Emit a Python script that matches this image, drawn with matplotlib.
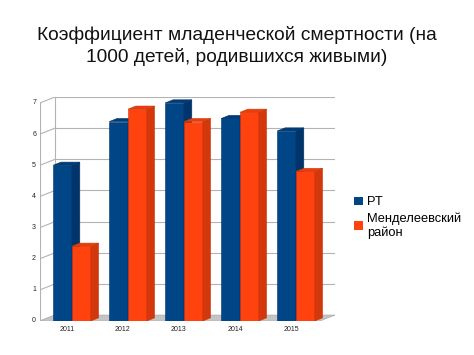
import matplotlib.pyplot as plt
from matplotlib.patches import Polygon, Rectangle

years = ['2011', '2012', '2013', '2014', '2015']
rt = [5.0, 6.4, 7.0, 6.5, 6.1]
mend = [2.4, 6.8, 6.4, 6.7, 4.8]
series_names = ['РТ', 'Менделеевский\nрайон']
yticks = [0, 1, 2, 3, 4, 5, 6, 7]

plt.rcParams['font.family'] = ['Liberation Sans', 'DejaVu Sans']

col_front = ['#004586', '#ff420e']
col_side = ['#00346a', '#d2380c']
col_top = ['#003c78', '#e83d0d']

fig = plt.figure(figsize=(4.74, 3.55), dpi=100)
ax = fig.add_axes([40 / 474, 34 / 355, 295 / 474, 224 / 355])
xmin, xmax = -0.571, 4.697
ymin, ymax = 0, 7.19
ax.set_xlim(xmin, xmax)
ax.set_ylim(ymin, ymax)
ax.axis('off')

# depth of back wall and of bars (data units)
dxw, dyw = 0.268, 0.19
dxb, dyb = 0.14, 0.10
front_right = xmax - dxw

# back wall grid
for t in yticks:
    ax.plot([xmin + dxw, xmax], [t + dyw, t + dyw], color='#b3b3b3', lw=0.8, zorder=1)
    ax.plot([xmin, xmin + dxw], [t, t + dyw], color='#b3b3b3', lw=0.8, zorder=1)
    ax.text(xmin - 0.07, t, str(t), ha='right', va='center', fontsize=5, color='#222222')
ax.plot([xmin + dxw, xmin + dxw], [dyw, yticks[-1] + dyw], color='#b3b3b3', lw=0.8, zorder=1)
ax.plot([xmin, xmin], [0, yticks[-1]], color='#b3b3b3', lw=0.8, zorder=1)

# floor
ax.add_patch(Polygon([(xmin, 0), (front_right, 0), (xmax, dyw), (xmin + dxw, dyw)],
                     closed=True, facecolor='#c4c4c4', edgecolor='#b0b0b0', lw=0.5, zorder=2))

w = 0.335
for i, year in enumerate(years):
    for s, vals in enumerate([rt, mend]):
        x0 = i + (s - 1) * w
        x1 = x0 + w
        v = vals[i]
        ax.add_patch(Rectangle((x0, 0), w, v, facecolor=col_front[s], edgecolor=col_side[s],
                               lw=0.4, zorder=3))
        ax.add_patch(Polygon([(x1, 0), (x1 + dxb, dyb), (x1 + dxb, v + dyb), (x1, v)],
                             closed=True, facecolor=col_side[s], edgecolor=col_side[s], lw=0.4, zorder=3))
        ax.add_patch(Polygon([(x0, v), (x1, v), (x1 + dxb, v + dyb), (x0 + dxb, v + dyb)],
                             closed=True, facecolor=col_top[s], edgecolor=col_side[s], lw=0.4, zorder=3))
    ax.text(i - 0.09, -0.28, year, ha='center', va='center', fontsize=5, color='#222222')

fig.text(0.5, 1 - 46 / 355, 'Коэффициент младенческой смертности (на\n1000 детей, родившихся живыми)',
         ha='center', va='center', fontsize=13.8, linespacing=1.25, color='#111111')

# legend
handles = [Rectangle((0, 0), 1, 1, facecolor=c) for c in col_front]
fig.legend(handles, series_names, loc='upper left', bbox_to_anchor=(348 / 474, 1 - 190 / 355),
           frameon=False, fontsize=9.3, handlelength=0.65, handleheight=0.65,
           handletextpad=0.35, labelspacing=0.3, borderpad=0)

fig.savefig('out.png', dpi=100)
